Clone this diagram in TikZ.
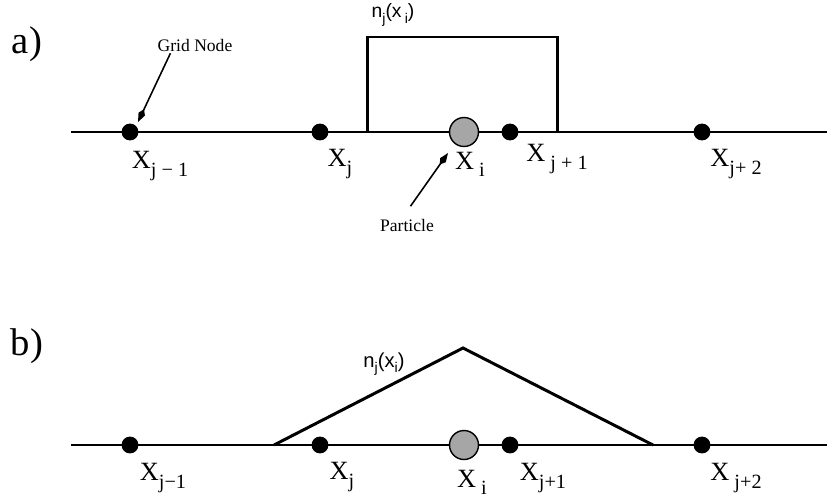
\documentclass[tikz,border=0pt]{standalone}
\usepackage{fontspec}
\setmainfont{Liberation Serif}
\setsansfont{Liberation Sans}
\usetikzlibrary{arrows.meta}

% position label with a lowered index
\newcommand{\poslbl}[2]{\fontsize{15}{17}\selectfont #1\raisebox{-0.6ex}{\fontsize{11.5}{13}\selectfont #2}}

\begin{document}
\begin{tikzpicture}[
  x=0.02cm, y=-0.02cm,
  >={Kite[length=8pt,width=4pt,inset=3pt]},   % pointer tip
  axis/.style={line width=1.1pt},
  shapefn/.style={line width=1.7pt, line join=miter},
  gridpt/.style={circle, fill=black, inner sep=0pt, minimum size=9.6pt},
  particle/.style={circle, draw=black, line width=0.8pt, fill=black!35, inner sep=0pt, minimum size=16.5pt},
  panel/.style={font=\fontsize{22}{24}\selectfont},
  note/.style={font=\fontsize{10}{11}\selectfont, inner sep=1pt},
  fnlbl/.style={font=\sffamily\fontsize{#1}{13}\selectfont, inner sep=1pt}
]
\useasboundingbox (0,0) rectangle (827,498);

% ---- a) top hat ----
\coordinate (aL) at (71,132);
\coordinate (aR) at (827,132);
\draw[axis] (aL) -- (aR);
\coordinate (aS1) at (367,132);
\coordinate (aS2) at (557,132);
\draw[shapefn] (aS1) -- (367,37) -- (557,37) -- (aS2);

\node[panel] (alab) at (27,44) {a)};
\node[gridpt]   (ajm1) at (130,132) {};
\node[gridpt]   (aj)   at (320,132) {};
\node[particle] (ai)   at (464,132) {};
\node[gridpt]   (ajp1) at (510,132) {};
\node[gridpt]   (ajp2) at (702,132) {};

\node (axjm1) at (160,166) {\poslbl{X}{j − 1}};
\node (axj)   at (340,164) {\poslbl{X}{j}};
\node (axi)   at (470,164) {\poslbl{X}{ i}};
\node (axjp1) at (557,159) {\poslbl{X}{ j + 1}};
\node (axjp2) at (736,164) {\poslbl{X}{j+ 2}};

\node[fnlbl=11] (afn) at (393,15) {n\raisebox{-0.5ex}{\fontsize{8}{9}\selectfont j}(x\,\raisebox{-0.5ex}{\fontsize{8}{9}\selectfont i})};

\node[note] (agrid) at (195,45) {Grid Node};
\coordinate (agtip) at (138,122);
\draw[->, line width=0.9pt] ([xshift=-14pt]agrid.south) -- (agtip);

\node[note] (apart) at (407,225) {Particle};
\coordinate (aptip) at (448,153);
\draw[->, line width=0.9pt] ([xshift=2pt,yshift=6pt]apart.north) -- (aptip);

% ---- b) triangle ----
\coordinate (bL) at (71,445);
\coordinate (bR) at (827,445);
\draw[axis] (bL) -- (bR);
\coordinate (bS1) at (274,445);
\coordinate (bS2) at (653,445);
\draw[shapefn] (bS1) -- (463,348) -- (bS2);

\node[panel] (blab) at (27,346) {b)};
\node[gridpt]   (bjm1) at (130,445) {};
\node[gridpt]   (bj)   at (320,445) {};
\node[particle] (bi)   at (464,445) {};
\node[gridpt]   (bjp1) at (510,445) {};
\node[gridpt]   (bjp2) at (702,445) {};

\node (bxjm1) at (163,478) {\poslbl{X}{j−1}};
\node (bxj)   at (342,477) {\poslbl{X}{j}};
\node (bxi)   at (472,482) {\poslbl{X}{ i}};
\node (bxjp1) at (543,478) {\poslbl{X}{j+1}};
\node (bxjp2) at (736,478) {\poslbl{X}{ j+2}};

\node[fnlbl=11.5] (bfn) at (384,364) {n\raisebox{-0.5ex}{\fontsize{8}{9}\selectfont j}(x\raisebox{-0.5ex}{\fontsize{8}{9}\selectfont i})};
\end{tikzpicture}
\end{document}
